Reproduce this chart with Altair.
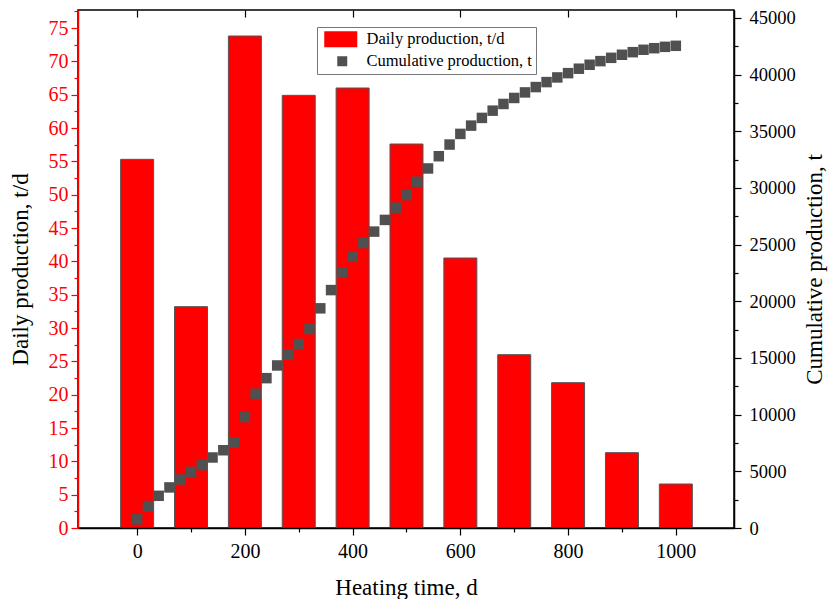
import altair as alt
import pandas as pd

# ---- data ----
bar_days = [0, 100, 200, 300, 400, 500, 600, 700, 800, 900, 1000]
daily = [55.3, 33.2, 73.8, 64.9, 66.0, 57.6, 40.5, 26.0, 21.8, 11.3, 6.6]

cum_days = [0, 20, 40, 60, 80, 100, 120, 140, 160, 180,
            200, 220, 240, 260, 280, 300, 320, 340, 360, 380,
            400, 420, 440, 460, 480, 500, 520, 540, 560, 580,
            600, 620, 640, 660, 680, 700, 720, 740, 760, 780,
            800, 820, 840, 860, 880, 900, 920, 940, 960, 980, 1000]
cumulative = [765, 1935, 2840, 3580, 4280, 4950, 5540, 6220, 6860, 7560,
              9790, 11850, 13220, 14340, 15280, 16240, 17550, 19380, 20990, 22540,
              23920, 25130, 26150, 27180, 28260, 29370, 30550, 31720, 32800, 33830,
              34770, 35500, 36180, 36820, 37410, 37940, 38430, 38900, 39340, 39750,
              40130, 40520, 40870, 41190, 41480, 41750, 41980, 42190, 42330, 42450, 42540]

series_names = ["Daily production, t/d", "Cumulative production, t"]
series_colors = ["#ff0000", "#505050"]

x_ticks = [0, 100, 200, 300, 400, 500, 600, 700, 800, 900, 1000]
x_top_ticks = [0, 200, 400, 600, 800, 1000]
left_ticks = [v * 2.5 for v in range(0, 32)]
right_ticks = [v * 2500 for v in range(0, 19)]

FONT = "Liberation Serif"
RED = "#ff0000"

bars_df = pd.DataFrame({"day": bar_days, "daily": daily})
cum_df = pd.DataFrame({"day": cum_days, "cum": cumulative})

x_scale = alt.Scale(domain=[-100.5, 1098.7], nice=False, zero=False)

bars = alt.Chart(bars_df).mark_bar(
    size=33, color=RED, stroke="#555555", strokeWidth=1
).encode(
    x=alt.X("day:Q", scale=x_scale, axis=alt.Axis(
        title="Heating time, d", values=x_ticks,
        labelExpr="datum.value % 200 === 0 ? '' + datum.value : ''",
        tickSize={"condition": {"test": "datum.value % 200 === 0", "value": 7}, "value": 4},
        tickColor="black", domainColor="black", domainWidth=1.5, tickWidth=1.2,
        labelColor="black", labelFont=FONT, labelFontSize=20, labelPadding=6,
        titleFont=FONT, titleFontSize=23, titleFontWeight="normal", titleColor="black",
        titlePadding=15, grid=False, zindex=1, orient="bottom")),
    y=alt.Y("daily:Q", scale=alt.Scale(domain=[0, 77.7], nice=False), axis=alt.Axis(
        title="Daily production, t/d", values=left_ticks,
        labelExpr="datum.value % 5 === 0 ? '' + datum.value : ''",
        tickSize={"condition": {"test": "datum.value % 5 === 0", "value": 7}, "value": 4},
        tickColor=RED, domainColor=RED, domainWidth=1.5, tickWidth=1.2,
        labelColor=RED, labelFont=FONT, labelFontSize=20, labelPadding=3,
        titleFont=FONT, titleFontSize=23, titleFontWeight="normal", titleColor="black",
        titlePadding=16, grid=False, zindex=1, orient="left")),
)

points = alt.Chart(cum_df).mark_square(
    size=110, color="#505050", opacity=1
).encode(
    x=alt.X("day:Q", scale=x_scale, axis=alt.Axis(
        title=None, values=x_top_ticks, labels=False, domain=False,
        tickSize=7, offset=-7, tickColor="black", tickWidth=1.2,
        grid=False, orient="top")),
    y=alt.Y("cum:Q", scale=alt.Scale(domain=[0, 45700], nice=False), axis=alt.Axis(
        title="Cumulative production, t", values=right_ticks,
        labelExpr="datum.value % 5000 === 0 ? '' + datum.value : ''",
        tickSize={"condition": {"test": "datum.value % 5000 === 0", "value": 7}, "value": 4},
        tickColor="black", domainColor="black", domainWidth=1.5, tickWidth=1.2,
        labelColor="black", labelFont=FONT, labelFontSize=18.5, labelPadding=8,
        titleFont=FONT, titleFontSize=23, titleFontWeight="normal", titleColor="black",
        titleAngle=270, titleBaseline="top", titlePadding=8,
        grid=False, orient="right")),
)

legend_layer = alt.Chart(alt.InlineData(values=[])).mark_point(filled=True, opacity=1).encode(
    color=alt.Color("series:N", scale=alt.Scale(domain=series_names, range=series_colors),
                    legend=None),
    shape=alt.Shape("series:N", scale=alt.Scale(
        domain=series_names,
        range=["M-1,-1.6H5.6V1.6H-1Z", "M1.6,-1H3.6V1H1.6Z"]),
        legend=alt.Legend(
            title=None, orient="none", legendX=239, legendY=17,
            strokeColor="#777777", fillColor="white", padding=4,
            symbolSize=100, symbolStrokeWidth=0, symbolFillColor="#505050",
            labelFont=FONT, labelFontSize=16.5, labelColor="black",
            labelOffset=29, rowPadding=5, labelLimit=400)),
    fill=alt.Fill("series:N", scale=alt.Scale(domain=series_names, range=series_colors),
                  legend=None),
)

chart = alt.layer(bars, points, legend_layer).resolve_scale(
    y="independent"
).resolve_axis(
    x="independent", y="independent"
).properties(
    width=656, height=518,
    autosize=alt.AutoSizeParams(type="none"),
    padding={"left": 70, "top": 2, "right": 97, "bottom": 71},
).configure_view(
    stroke="black", strokeWidth=1.5
)

chart.save("out.html", embed_options={"renderer": "svg", "actions": False})
